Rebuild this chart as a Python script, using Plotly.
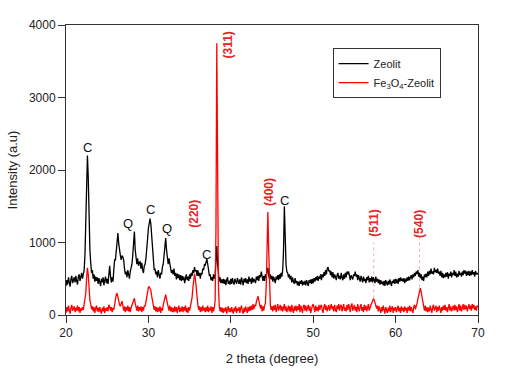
import plotly.graph_objects as go

# 2-theta grid (degrees), 0.1 step from 20 to 70
TWO_THETA = [round(20 + 0.1 * i, 1) for i in range(501)]

ZEOLIT = [
    400, 480, 420, 520, 450, 390, 500, 540, 440, 470,
    520, 450, 540, 470, 420, 530, 560, 470, 520, 580,
    500, 560, 620, 820, 1200, 1800, 2200, 1900, 1300, 900,
    720, 580, 620, 500, 560, 460, 530, 470, 520, 430,
    510, 440, 400, 500, 450, 520, 410, 480, 530, 440,
    500, 430, 620, 680, 540, 450, 520, 460, 620, 760,
    760, 900, 1050, 1130, 980, 860, 820, 760, 820, 800,
    760, 640, 560, 600, 520, 620, 540, 500, 600, 650,
    700, 820, 1000, 1150, 900, 760, 700, 780, 680, 720,
    740, 640, 720, 620, 580, 680, 700, 780, 880, 1050,
    1200, 1300, 1330, 1250, 1050, 850, 740, 620, 640, 560,
    600, 520, 620, 540, 500, 580, 560, 660, 700, 820,
    950, 1060, 900, 760, 700, 780, 680, 640, 580, 620,
    560, 640, 540, 580, 490, 570, 510, 560, 480, 550,
    470, 540, 480, 530, 440, 520, 560, 480, 530, 470,
    560, 500, 580, 540, 620, 580, 660, 600, 620, 540,
    620, 540, 580, 500, 580, 560, 640, 620, 700, 690,
    740, 770, 700, 620, 540, 560, 480, 520, 470, 560,
    500, 560, 700, 950, 700, 520, 460, 520, 440, 490,
    440, 500, 430, 490, 410, 480, 520, 430, 470, 420,
    500, 430, 510, 450, 420, 500, 470, 430, 510, 460,
    430, 490, 420, 520, 460, 410, 500, 450, 510, 440,
    490, 430, 530, 460, 500, 430, 520, 450, 500, 470,
    440, 530, 480, 540, 470, 550, 520, 600, 520, 470,
    540, 470, 560, 520, 620, 650, 540, 500, 560, 490,
    540, 460, 530, 480, 440, 530, 490, 550, 480, 560,
    500, 580, 530, 620, 900, 1500, 1000, 700, 600, 580,
    520, 560, 490, 540, 450, 520, 460, 430, 510, 440,
    470, 410, 460, 400, 470, 430, 480, 410, 460, 420,
    470, 410, 480, 430, 400, 480, 440, 490, 430, 500,
    440, 510, 460, 520, 480, 540, 470, 530, 500, 560,
    480, 560, 520, 590, 540, 620, 560, 640, 660, 600,
    620, 550, 600, 520, 590, 500, 560, 530, 480, 550,
    580, 500, 540, 490, 580, 520, 480, 560, 500, 580,
    520, 600, 560, 600, 520, 480, 550, 520, 490, 560,
    540, 600, 530, 560, 480, 550, 490, 460, 540, 480,
    450, 530, 470, 500, 440, 520, 480, 540, 450, 510,
    460, 530, 450, 520, 470, 440, 530, 460, 500, 440,
    490, 420, 480, 430, 460, 410, 470, 400, 480, 430,
    410, 470, 420, 490, 430, 400, 470, 440, 490, 430,
    500, 440, 490, 430, 510, 460, 520, 470, 500, 460,
    510, 440, 500, 460, 520, 470, 530, 480, 520, 550,
    490, 560, 520, 580, 540, 600, 570, 620, 530, 580,
    510, 560, 480, 530, 470, 560, 520, 570, 520, 600,
    540, 610, 560, 640, 570, 600, 560, 650, 590, 620,
    580, 640, 570, 600, 540, 610, 520, 580, 510, 560,
    520, 580, 530, 590, 500, 570, 540, 600, 520, 580,
    550, 620, 540, 600, 520, 570, 530, 610, 550, 580,
    530, 600, 550, 620, 570, 610, 540, 600, 550, 610,
    540, 600, 550, 620, 560, 590, 530, 610, 560, 580,
    560,
]

FE3O4_ZEOLIT = [
    30, 110, 50, 130, 60, 20, 100, 140, 60, 90,
    120, 40, 100, 60, 130, 50, 110, 30, 90, 60,
    110, 70, 140, 180, 300, 500, 650, 560, 350, 200,
    150, 80, 120, 50, 110, 30, 90, 130, 50, 100,
    40, 110, 60, 20, 100, 50, 120, 30, 90, 60,
    110, 50, 140, 120, 60, 110, 40, 100, 70, 160,
    220, 280, 300, 240, 200, 140, 120, 160, 190, 130,
    60, 120, 40, 110, 60, 130, 50, 110, 40, 100,
    130, 160, 200, 230, 160, 110, 60, 130, 50, 110,
    60, 120, 40, 110, 60, 130, 120, 180, 260, 340,
    380, 390, 370, 340, 260, 180, 130, 70, 120, 50,
    110, 40, 100, 50, 120, 30, 100, 60, 140, 200,
    250, 280, 220, 160, 110, 60, 130, 50, 110, 40,
    100, 40, 120, 50, 110, 30, 90, 130, 40, 100,
    50, 120, 40, 110, 60, 130, 40, 100, 30, 110,
    60, 130, 160, 240, 380, 520, 570, 500, 360, 220,
    140, 70, 120, 40, 110, 50, 130, 60, 100, 40,
    110, 50, 130, 40, 100, 60, 120, 30, 110, 50,
    100, 200, 1200, 3750, 1800, 400, 120, 50, 110, 40,
    100, 30, 90, 50, 110, 20, 80, 120, 40, 90,
    40, 110, 60, 20, 100, 50, 120, 30, 90, 60,
    110, 30, 90, 130, 50, 20, 100, 40, 120, 60,
    30, 110, 50, 120, 60, 130, 70, 150, 80, 140,
    120, 180, 220, 260, 200, 160, 90, 140, 50, 120,
    60, 130, 160, 400, 1000, 1420, 900, 300, 140, 70,
    120, 50, 130, 70, 140, 40, 110, 150, 60, 120,
    140, 60, 120, 50, 130, 150, 60, 120, 40, 110,
    130, 50, 120, 40, 140, 70, 30, 120, 60, 130,
    50, 120, 70, 150, 40, 130, 60, 30, 120, 140,
    60, 130, 50, 110, 140, 60, 120, 30, 100, 130,
    150, 70, 40, 130, 60, 110, 50, 140, 70, 120,
    140, 60, 30, 120, 150, 70, 130, 50, 110, 140,
    60, 110, 150, 80, 120, 50, 140, 70, 40, 130,
    80, 150, 60, 120, 140, 50, 110, 150, 60, 100,
    50, 140, 70, 150, 100, 40, 130, 160, 60, 110,
    140, 60, 110, 40, 150, 90, 50, 120, 150, 60,
    110, 40, 140, 70, 130, 50, 110, 150, 60, 120,
    140, 160, 190, 220, 210, 170, 140, 90, 130, 50,
    120, 60, 30, 110, 50, 130, 70, 20, 110, 60,
    30, 100, 50, 130, 40, 90, 120, 30, 100, 60,
    110, 40, 90, 130, 50, 100, 30, 120, 60, 100,
    40, 120, 60, 100, 30, 110, 60, 130, 50, 110,
    60, 30, 110, 140, 80, 150, 160, 220, 290, 350,
    370, 320, 240, 170, 120, 60, 130, 50, 110, 40,
    100, 50, 130, 70, 30, 110, 140, 60, 90, 130,
    40, 110, 60, 130, 80, 30, 110, 60, 130, 70,
    140, 60, 110, 40, 100, 150, 60, 120, 50, 110,
    130, 60, 140, 70, 120, 40, 110, 150, 60, 130,
    50, 120, 150, 70, 140, 80, 130, 50, 120, 150,
    80, 130, 60, 150, 90, 140, 70, 120, 60, 130,
    110,
]

# Phase labels on the Zeolit pattern (C = clinoptilolite, Q = quartz)
PHASE_LABELS = ["C", "Q", "C", "Q", "C", "C"]
PHASE_X = [22.6, 27.5, 30.2, 32.2, 37.1, 46.5]
PHASE_Y = [2310, 1260, 1450, 1195, 840, 1575]

# Magnetite reflections
HKL_LABELS = ["(220)", "(311)", "(400)", "(511)", "(540)"]
HKL_X = [35.6, 39.65, 44.7, 57.35, 62.9]
HKL_Y = [1390, 3730, 1690, 1270, 1250]

# leader lines (peak position, peak top, label bottom)
LEADER_X = [57.35, 62.9]
LEADER_Y0 = [230, 380]
LEADER_Y1 = [1000, 1060]

fig = go.Figure()

for lx, y0, y1 in zip(LEADER_X, LEADER_Y0, LEADER_Y1):
    fig.add_trace(go.Scatter(x=[lx, lx], y=[y0, y1], mode="lines",
                             line=dict(color="rgba(245,140,140,0.7)", width=1, dash="dot"),
                             showlegend=False, hoverinfo="skip"))

fig.add_trace(go.Scatter(x=TWO_THETA, y=ZEOLIT, mode="lines", name="Zeolit",
                         line=dict(color="#000000", width=1.3)))
fig.add_trace(go.Scatter(x=TWO_THETA, y=FE3O4_ZEOLIT, mode="lines",
                         name="Fe<sub>3</sub>O<sub>4</sub>-Zeolit",
                         line=dict(color="#ff0000", width=1.3)))

for t, x, y in zip(PHASE_LABELS, PHASE_X, PHASE_Y):
    fig.add_annotation(x=x, y=y, text=t, showarrow=False,
                       font=dict(family="Liberation Sans, Arial", size=13, color="#111111"))

for t, x, y in zip(HKL_LABELS, HKL_X, HKL_Y):
    fig.add_annotation(x=x, y=y, text="<b>" + t + "</b>", showarrow=False, textangle=-90,
                       font=dict(family="Liberation Sans, Arial", size=12, color="#e8241e"))

axis_common = dict(
    showline=True, linecolor="#333333", linewidth=1, mirror=True,
    ticks="outside", ticklen=7, tickcolor="#333333", showgrid=False, zeroline=False,
    tickfont=dict(family="Liberation Sans, Arial", size=12, color="#222222"),
)

fig.update_xaxes(range=[20, 70], tickvals=[20, 30, 40, 50, 60, 70],
                 title=dict(text="2 theta (degree)", standoff=14,
                            font=dict(family="Liberation Sans, Arial", size=13, color="#222222")),
                 **axis_common)
fig.update_yaxes(range=[0, 4000], tickvals=[0, 1000, 2000, 3000, 4000],
                 title=dict(text="Intensity (a.u)", standoff=8,
                            font=dict(family="Liberation Sans, Arial", size=13, color="#222222")),
                 **axis_common)

fig.update_layout(
    width=520, height=376,
    margin=dict(l=64, r=42, t=25, b=52),
    plot_bgcolor="white", paper_bgcolor="white",
    showlegend=True,
    legend=dict(x=0.647, y=0.92, xanchor="left", yanchor="top",
                bordercolor="#333333", borderwidth=1, bgcolor="white",
                font=dict(family="Liberation Sans, Arial", size=11, color="#222222"),
                tracegroupgap=0, itemwidth=30),
)

fig.write_html("out.html")
